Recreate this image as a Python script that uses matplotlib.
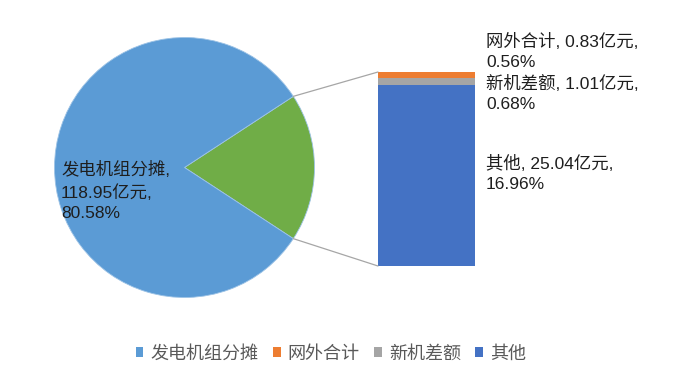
import matplotlib
matplotlib.use("Agg")
import matplotlib.pyplot as plt
from matplotlib.patches import ConnectionPatch, Patch
import numpy as np

plt.rcParams['font.family'] = ['Liberation Sans', 'Noto Sans CJK SC', 'DejaVu Sans']

# Data
pie_labels = ["发电机组分摊", "其他合计"]
main_value = 118.95
main_pct = "80.58%"
bar_labels = ["其他", "新机差额", "网外合计"]   # bottom -> top
bar_values = [25.04, 1.01, 0.83]
bar_pcts = ["16.96%", "0.68%", "0.56%"]
legend_order = ["发电机组分摊", "网外合计", "新机差额", "其他"]

colors = {"发电机组分摊": "#5B9BD5", "网外合计": "#ED7D31",
          "新机差额": "#A5A5A5", "其他": "#4472C4", "其他合计": "#70AD47"}

W, H = 680, 376
fig = plt.figure(figsize=(W / 100, H / 100), dpi=100)
ax = fig.add_axes([0, 0, 1, 1])

other_total = sum(bar_values)
total = main_value + other_total
green_frac = other_total / total
start = -green_frac * 180.0
cx, cy, r = 184.5, H - 167.5, 130
ax.pie([other_total, main_value], colors=[colors["其他合计"], colors["发电机组分摊"]],
       startangle=start, counterclock=True, center=(cx, cy), radius=r,
       wedgeprops=dict(linewidth=0.6, edgecolor='#9dc3e6'), frame=True)
ax.set_xlim(0, W)
ax.set_ylim(0, H)
ax.set_aspect('equal')
ax.axis('off')

# bar axes
bx0, bx1, by0, by1 = 378, 475, 266, 72
bax = fig.add_axes([bx0 / W, (H - by0) / H, (bx1 - bx0) / W, (by0 - by1) / H])
bottom = 0
for lab, v in zip(bar_labels, bar_values):
    bax.bar(0, v, width=1.0, bottom=bottom, color=colors[lab], edgecolor='none')
    bottom += v
bax.set_xlim(-0.5, 0.5)
bax.set_ylim(0, other_total)
bax.axis('off')

# connector lines
ang = np.deg2rad(green_frac * 180.0)
p_top = (cx + r * np.cos(ang), cy + r * np.sin(ang))
p_bot = (cx + r * np.cos(ang), cy - r * np.sin(ang))
for p, yb in [(p_top, other_total), (p_bot, 0)]:
    con = ConnectionPatch(xyA=p, coordsA=ax.transData, xyB=(-0.5, yb), coordsB=bax.transData,
                          color='#a6a6a6', linewidth=0.9)
    fig.add_artist(con)

# data labels
lab_color = '#1e1e1e'
fs = 12.5
ls = 1.42
ax.text(61, H - 161, f"{pie_labels[0]},\n{main_value:.2f}亿元,\n{main_pct}", ha='left', va='top',
        fontsize=fs, color=lab_color, linespacing=ls)
label_y = {"网外合计": 33, "新机差额": 75, "其他": 155}
for lab, v, pc in zip(bar_labels, bar_values, bar_pcts):
    ax.text(486, H - label_y[lab], f"{lab}, {v:.2f}亿元,\n{pc}", ha='left', va='top',
            fontsize=fs, color=lab_color, linespacing=ls)

# legend
handles = [Patch(facecolor=colors[k], edgecolor='none') for k in legend_order]
fig.legend(handles, legend_order, loc='center', bbox_to_anchor=(331 / W, 1 - 354 / H), ncol=4,
           frameon=False, fontsize=13, labelcolor='#595959', handlelength=0.42, handleheight=0.42,
           handletextpad=0.4, columnspacing=0.8)

fig.savefig("out.png", dpi=100)
